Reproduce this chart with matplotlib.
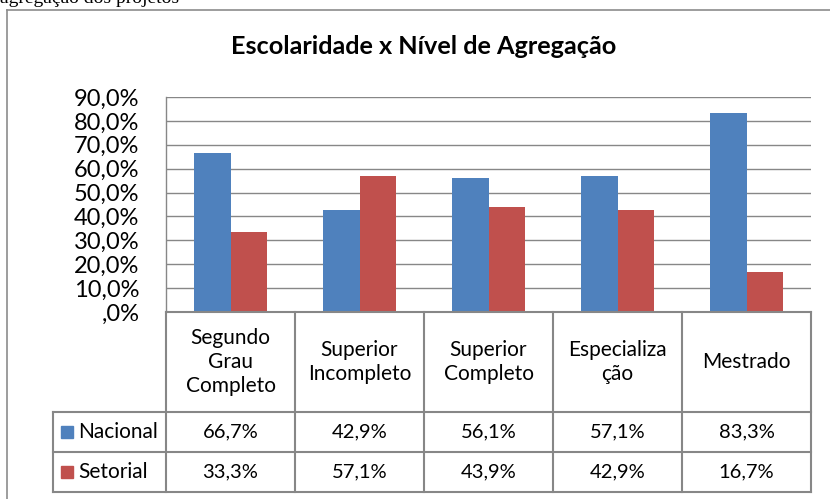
import matplotlib
matplotlib.use('Agg')
import matplotlib.pyplot as plt
import matplotlib.transforms as mtransforms
from matplotlib.lines import Line2D
from matplotlib.patches import Rectangle

# data
categorias = ['Segundo\nGrau\nCompleto', 'Superior\nIncompleto', 'Superior\nCompleto',
              'Especializa\nção', 'Mestrado']
nacional = [0.667, 0.429, 0.561, 0.571, 0.833]
setorial = [0.333, 0.571, 0.439, 0.429, 0.167]
series = ['Nacional', 'Setorial']
cores = ['#4F81BD', '#C0504D']
yticks = [0.0, 0.1, 0.2, 0.3, 0.4, 0.5, 0.6, 0.7, 0.8, 0.9]

W, H = 830, 499
FONT = 'Lato'
GRID = '#878787'


def pct(v):
    s = f'{v * 100:.1f}%'.replace('.', ',')
    return s[1:] if s.startswith('0,') else s


def fx(px):
    return px / W


def fy(py):
    return 1 - py / H


fig = plt.figure(figsize=(W / 100, H / 100), dpi=100)

# text of the page above the chart, cut off at the top as in the source
fig.text(fx(0), fy(3), 'agregação dos projetos', family='Liberation Serif',
         fontsize=14, va='baseline', ha='left')

# chart frame
fig.add_artist(Line2D([fx(7), fx(7)], [fy(10), fy(499)], color='#8c8c8c', lw=1.2))
fig.add_artist(Line2D([fx(7), fx(830)], [fy(10), fy(10)], color='#8c8c8c', lw=1.2))

fig.text(fx(424), fy(47), 'Escolaridade x Nível de Agregação', family=FONT,
         fontsize=18.2, fontweight='bold', ha='center', va='center')

ax = fig.add_axes([fx(166), fy(312), fx(811 - 166), (312 - 97) / H])
x = range(len(categorias))
w = 0.28
ax.bar([i - w / 2 for i in x], nacional, w, color=cores[0], zorder=3)
ax.bar([i + w / 2 for i in x], setorial, w, color=cores[1], zorder=3)
ax.set_xlim(-0.5, len(categorias) - 0.5)
ax.set_ylim(0, 0.9)
ax.set_yticks(yticks)
ax.set_yticklabels([pct(v) for v in yticks], family=FONT, fontsize=17)
ax.tick_params(axis='y', length=0, pad=19)
ax.set_xticks([])
ax.grid(axis='y', color=GRID, lw=1.0, zorder=0)
for s in ['top', 'right', 'bottom']:
    ax.spines[s].set_visible(False)
ax.spines['left'].set_color(GRID)
ax.spines['left'].set_linewidth(1.0)

# data table under the plot: x in data units, y in pixels
tr = mtransforms.blended_transform_factory(ax.transData, fig.transFigure)
rows = [312, 412, 452, 492]
xl = -0.5 - 113 / 129  # left edge of the legend column
n = len(categorias)
for r in rows:
    x0 = -0.5 if r == 312 else xl
    fig.add_artist(Line2D([x0, n - 0.5], [fy(r), fy(r)], transform=tr,
                          color=GRID, lw=1.5, clip_on=False))
for i in range(n + 1):
    fig.add_artist(Line2D([i - 0.5, i - 0.5], [fy(312), fy(492)], transform=tr,
                          color=GRID, lw=1.5, clip_on=False))
fig.add_artist(Line2D([xl, xl], [fy(412), fy(492)], transform=tr,
                      color=GRID, lw=1.5, clip_on=False))

for i, c in enumerate(categorias):
    fig.text(i, fy(362), c, transform=tr, family=FONT, fontsize=15,
             ha='center', va='center', linespacing=1.25)

for k, (nome, vals) in enumerate(zip(series, [nacional, setorial])):
    yc = (rows[k + 1] + rows[k + 2]) / 2
    for i, v in enumerate(vals):
        fig.text(i, fy(yc), pct(v), transform=tr, family=FONT, fontsize=14.5,
                 ha='center', va='center')
    fig.add_artist(Rectangle((fx(61), fy(yc + 6)), fx(12), 12 / H,
                             color=cores[k], transform=fig.transFigure))
    fig.text(fx(78), fy(yc), nome, family=FONT, fontsize=15, ha='left', va='center')

fig.savefig('out.png', dpi=100)
